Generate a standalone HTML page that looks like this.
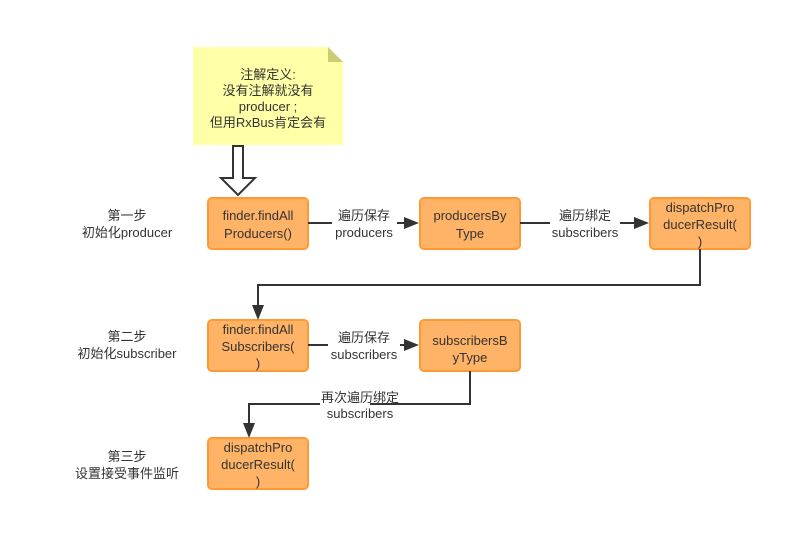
<!DOCTYPE html>
<html><head><meta charset="utf-8"><style>
html,body{margin:0;padding:0;background:#fff;}
svg{display:block;}
text{font-family:"Liberation Sans","Noto Sans CJK SC",sans-serif;font-size:13px;fill:#333;}
</style></head><body>
<svg width="812" height="551" viewBox="0 0 812 551" xmlns="http://www.w3.org/2000/svg">
<rect width="812" height="551" fill="#fff"/>
<!-- note -->
<path d="M193 47 H328 L343 62 V145 H193 Z" fill="#ffff99" fill-opacity="0.85"/>
<path d="M328 47 L343 62 H328 Z" fill="#cccc77"/>
<g text-anchor="middle">
<text x="268" y="79">注解定义:</text>
<text x="268" y="95">没有注解就没有</text>
<text x="268" y="111">producer ;</text>
<text x="268" y="127">但用RxBus肯定会有</text>
</g>
<!-- hollow arrow -->
<path d="M233 146 H243 V178 H255 L238 195 L221 178 H233 Z" fill="#fff" stroke="#333" stroke-width="2"/>
<!-- boxes -->
<g fill="#ffb366" stroke="#ff9933" stroke-width="2">
<rect x="208" y="198" width="100" height="51" rx="4"/>
<rect x="420" y="198" width="100" height="51" rx="4"/>
<rect x="650" y="198" width="100" height="51" rx="4"/>
<rect x="208" y="320" width="100" height="51" rx="4"/>
<rect x="420" y="320" width="100" height="51" rx="4"/>
<rect x="208" y="438" width="100" height="51" rx="4"/>
</g>
<g text-anchor="middle">
<text x="258" y="220">finder.findAll</text><text x="258" y="238">Producers()</text>
<text x="470" y="220">producersBy</text><text x="470" y="238">Type</text>
<text x="700" y="212">dispatchPro</text><text x="700" y="229">ducerResult(</text><text x="700" y="246">)</text>
<text x="258" y="334">finder.findAll</text><text x="258" y="351">Subscribers(</text><text x="258" y="368">)</text>
<text x="470" y="345">subscribersB</text><text x="470" y="362">yType</text>
<text x="258" y="452">dispatchPro</text><text x="258" y="469">ducerResult(</text><text x="258" y="486">)</text>
</g>
<!-- connectors -->
<g stroke="#333" stroke-width="2" fill="none">
<path d="M308 223 H332"/><path d="M397 223 H406"/>
<path d="M520 223 H550"/><path d="M620 223 H636"/>
<path d="M700 249 V285 H258 V308"/>
<path d="M308 345 H328"/><path d="M400 345 H406"/>
<path d="M470 371 V404 H370"/><path d="M320 404 H249 V426"/>
</g>
<g fill="#333">
<path d="M419 223 L404 217 V229 Z"/>
<path d="M649 223 L634 217 V229 Z"/>
<path d="M258 320 L252 305 H264 Z"/>
<path d="M419 345 L404 339 V351 Z"/>
<path d="M249 438 L243 423 H255 Z"/>
</g>
<g text-anchor="middle">
<text x="364" y="220">遍历保存</text><text x="364" y="237">producers</text>
<text x="585" y="220">遍历绑定</text><text x="585" y="237">subscribers</text>
<text x="364" y="342">遍历保存</text><text x="364" y="359">subscribers</text>
<text x="360" y="402">再次遍历绑定</text><text x="360" y="418">subscribers</text>
<text x="127" y="220">第一步</text><text x="127" y="237">初始化producer</text>
<text x="127" y="341">第二步</text><text x="127" y="358">初始化subscriber</text>
<text x="127" y="461">第三步</text><text x="127" y="478">设置接受事件监听</text>
</g>
</svg>
</body></html>
